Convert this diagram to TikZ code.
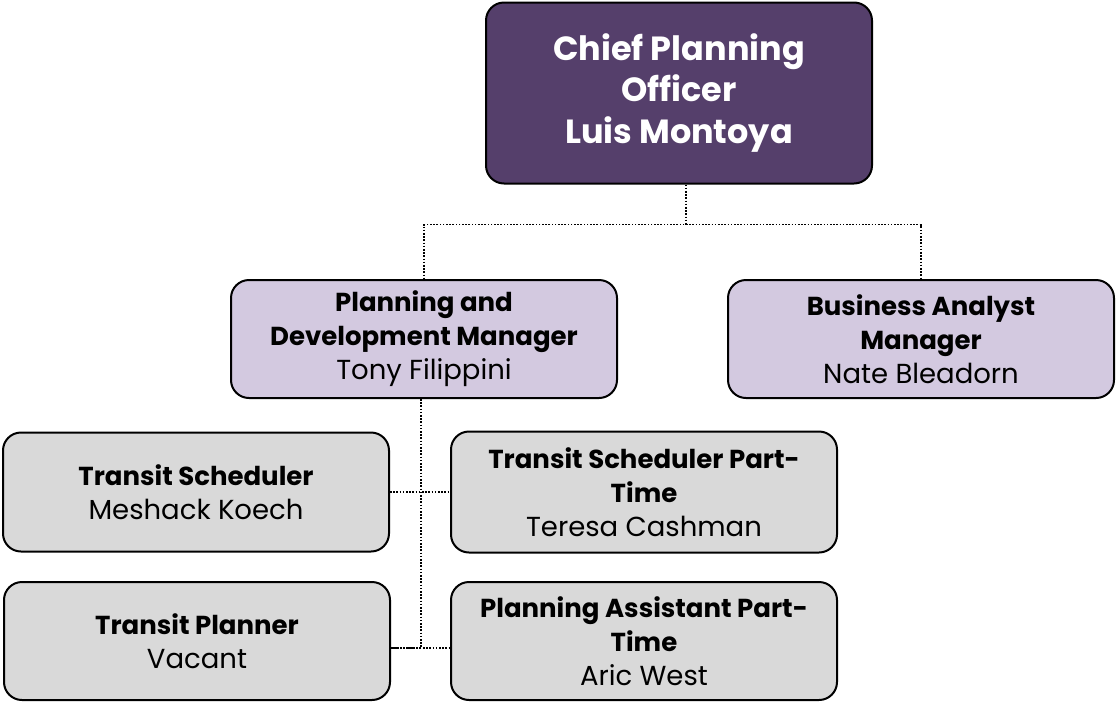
\documentclass[tikz,border=0pt]{standalone}
\usepackage{fontspec}
\setmainfont{Poppins}
\usepackage{tikz}
\definecolor{chieffill}{HTML}{553F6B}
\definecolor{mgrfill}{HTML}{D3C9E0}
\definecolor{stafffill}{HTML}{D9D9D9}
\newcommand{\who}[1]{{\fontsize{27.5}{34}\selectfont\mdseries #1}}
\tikzset{
  box/.style={draw=black,line width=2pt,rounded corners=18pt,align=center,
    inner sep=0pt,minimum width=386pt,minimum height=118pt,
    font=\fontsize{26}{34}\selectfont\bfseries},
  chiefbox/.style={box,fill=chieffill,text=white,minimum height=181pt,
    font=\fontsize{33.5}{41.5}\selectfont\bfseries},
  mgrbox/.style={box,fill=mgrfill},
  staffbox/.style={box,fill=stafffill},
  link/.style={line width=1.6pt,dash pattern=on 1.6pt off 1.6pt},
}

\begin{document}
\begin{tikzpicture}[x=1pt,y=-1pt]
  \useasboundingbox (0,0) rectangle (1116,702);
  \node[chiefbox] (chief) at (679,93) {Chief Planning\\Officer\\Luis Montoya};
  \node[mgrbox] (pdm) at (424,339) {Planning and\\Development Manager\\\who{Tony Filippini}};
  \node[mgrbox] (bam) at (921,339) {Business Analyst\\Manager\\\who{Nate Bleadorn}};
  \node[staffbox,minimum height=119pt] (ts) at (196,492) {Transit Scheduler\\\who{Meshack Koech}};
  \node[staffbox,minimum height=121pt] (tsp) at (644,492) {Transit Scheduler Part-\\Time\\\who{Teresa Cashman}};
  \node[staffbox] (tp) at (197,641) {Transit Planner\\\who{Vacant}};
  \node[staffbox] (pap) at (644,641) {Planning Assistant Part-\\Time\\\who{Aric West}};
  % reporting lines
  \draw[link] ([xshift=7pt]chief.south) -- ++(0,40) -| (pdm.north);
  \draw[link] ([xshift=7pt]chief.south) ++(0,40) -| (bam.north);
  \draw[link] ([xshift=-3pt]pdm.south) |- ([yshift=-7pt]tp.east);
  \draw[link] (ts.east) -- (tsp.west);
  \draw[link] ([yshift=-7pt]tp.east) -- ([yshift=-7pt]pap.west);
\end{tikzpicture}
\end{document}
